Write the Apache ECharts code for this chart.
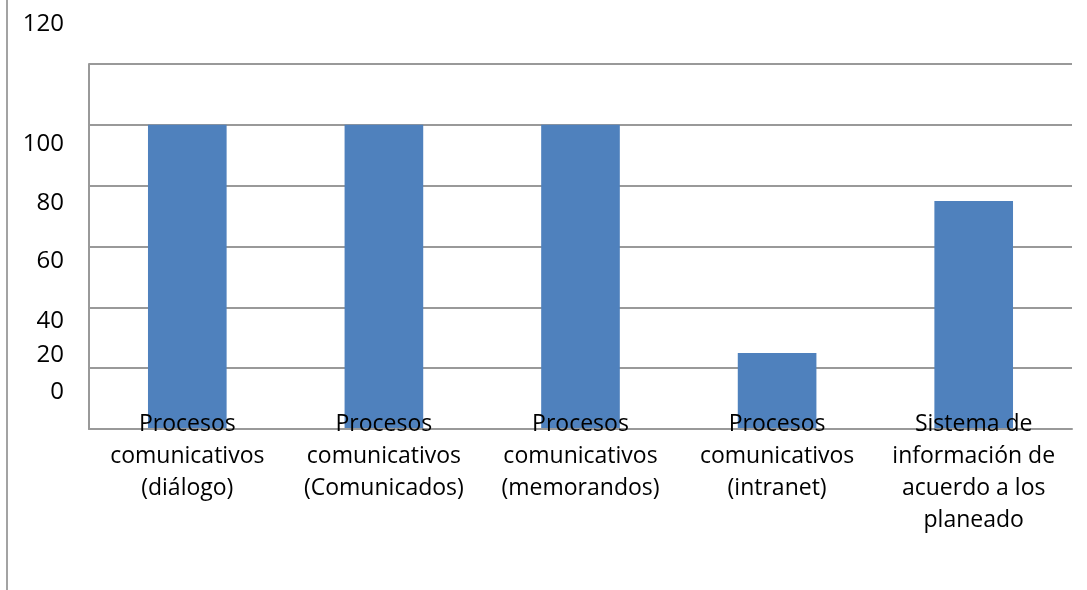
<!DOCTYPE html>
<html>
<head>
<meta charset="utf-8">
<script src="https://cdn.jsdelivr.net/npm/echarts@6/dist/echarts.min.js"></script>
<style>
  html, body { margin: 0; padding: 0; background: #fff; }
  #frame { position: absolute; left: 0; top: 0; width: 1087px; height: 590px; }
  #edge { position: absolute; left: 6px; top: 0; width: 2px; height: 590px; background: #a3a3a3; }
  #chart { position: absolute; left: 0; top: 0; width: 1087px; height: 590px; }
</style>
</head>
<body>
<div id="frame">
  <div id="chart"></div>
  <div id="edge"></div>
</div>
<script>
// Categories and values
const categories = [
  'Procesos\ncomunicativos\n(diálogo)',
  'Procesos\ncomunicativos\n(Comunicados)',
  'Procesos\ncomunicativos\n(memorandos)',
  'Procesos\ncomunicativos\n(intranet)',
  'Sistema de\ninformación de\nacuerdo a los\nplaneado'
];
const values = [100, 100, 100, 25, 75];
const tickValues = [0, 20, 40, 60, 80, 100, 120];

// Vertical offset (px, + = down) of each value-axis label from its grid line
const labelShift = { 0: -37, 20: -13, 40: 14, 60: 15, 80: 17, 100: 19, 120: -40 };

const FONT = '"Open Sans", "Noto Sans", sans-serif';
const LH = 24;

// Labels moved up hang above their tick (bottom-aligned, spacer below);
// labels moved down hang below it (top-aligned, spacer above).
function spacerFor(t) { return Math.max(Math.abs(labelShift[t]) - LH / 2, 0); }

const rich = { v: { fontSize: 24, fontFamily: FONT, color: '#000', lineHeight: LH } };
tickValues.forEach(t => {
  rich['s' + t] = { fontSize: 1, lineHeight: Math.max(spacerFor(t), 1) };
});

function upLabel(val) {
  if (!(labelShift[val] < 0)) return '';
  return spacerFor(val) >= 1 ? '{v|' + val + '}\n{s' + val + '| }' : '{v|' + val + '}';
}
function downLabel(val) {
  if (!(labelShift[val] > 0)) return '';
  return spacerFor(val) >= 1 ? '{s' + val + '| }\n{v|' + val + '}' : '{v|' + val + '}';
}

const gridLine = { color: '#999', width: 2 };
const baseY = { type: 'value', min: 0, max: 120, interval: 20, position: 'left' };

const chart = echarts.init(document.getElementById('chart'), null, { renderer: 'canvas' });
chart.setOption({
  animation: false,
  backgroundColor: '#fff',
  grid: { left: 89, right: 15, top: 64, bottom: 161, containLabel: false },
  xAxis: {
    type: 'category',
    data: categories,
    axisLine: { show: true, lineStyle: gridLine },
    axisTick: { show: false },
    axisLabel: {
      interval: 0,
      margin: -21,
      fontFamily: FONT,
      fontSize: 23,
      lineHeight: 32,
      color: '#000',
      align: 'center',
      verticalAlign: 'top',
      hideOverlap: false
    },
    z: 10
  },
  yAxis: [
    Object.assign({}, baseY, {
      axisLine: { show: true, lineStyle: gridLine },
      axisTick: { show: false },
      splitLine: { show: true, lineStyle: gridLine },
      axisLabel: {
        margin: 25,
        verticalAlign: 'bottom',
        showMinLabel: true,
        showMaxLabel: true,
        hideOverlap: false,
        formatter: upLabel,
        rich: rich
      }
    }),
    Object.assign({}, baseY, {
      axisLine: { show: false },
      axisTick: { show: false },
      splitLine: { show: false },
      axisLabel: {
        margin: 25,
        verticalAlign: 'top',
        showMinLabel: true,
        showMaxLabel: true,
        hideOverlap: false,
        formatter: downLabel,
        rich: rich
      }
    })
  ],
  series: [{
    type: 'bar',
    data: values,
    yAxisIndex: 0,
    barWidth: '40%',
    itemStyle: { color: '#4F81BD' },
    z: 2
  }]
});
</script>
</body>
</html>
